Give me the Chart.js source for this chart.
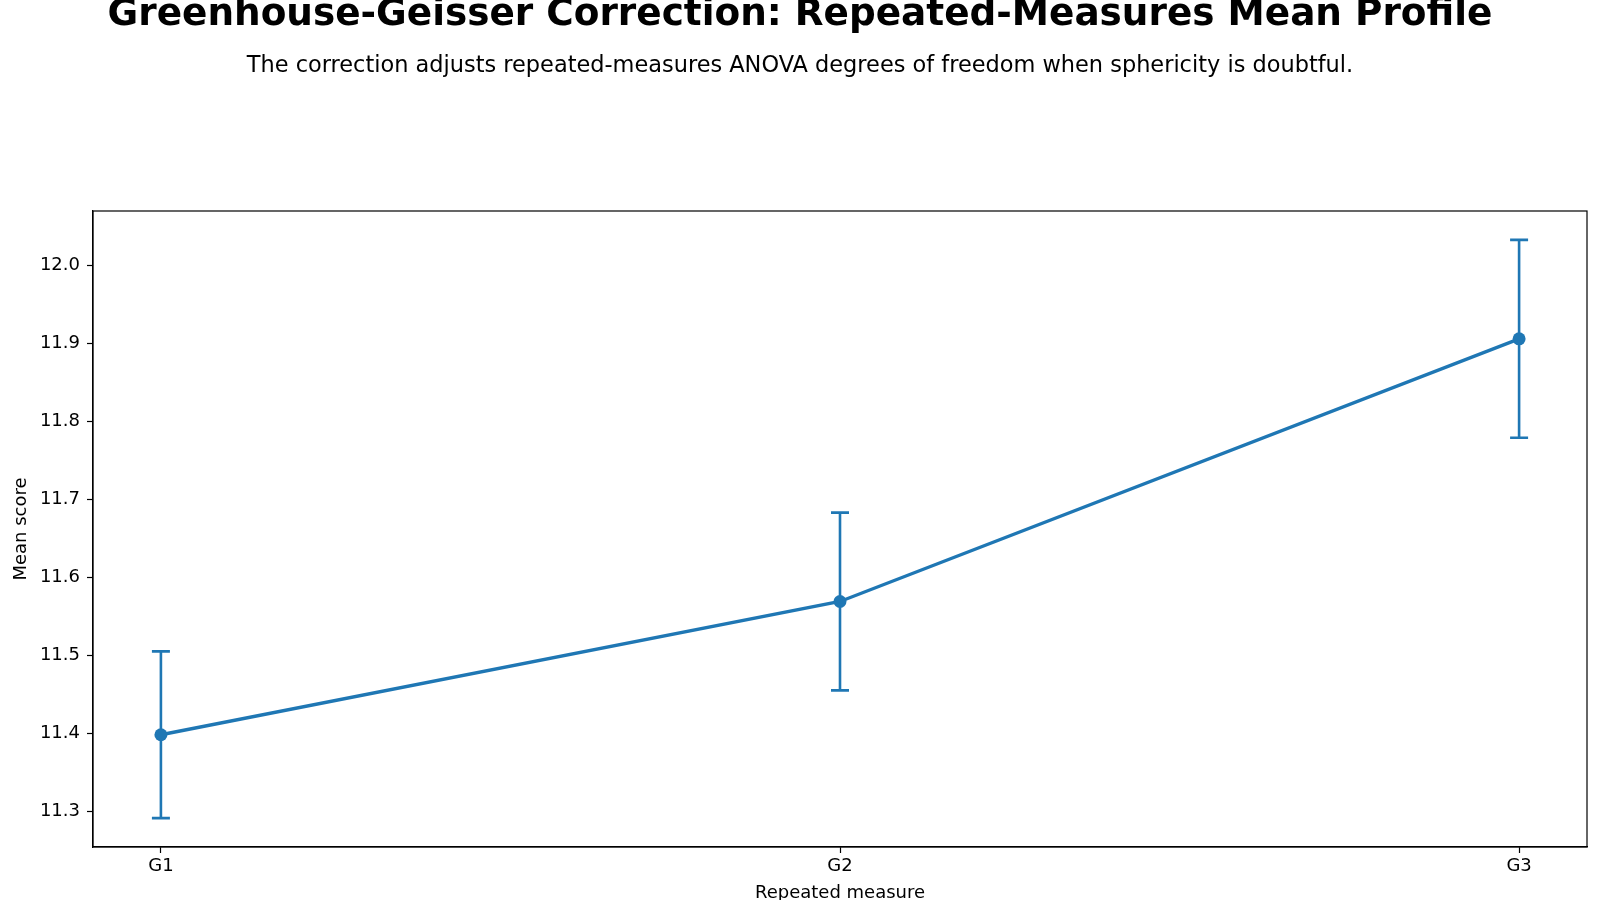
<!DOCTYPE html>
<html>
<head>
<meta charset="utf-8">
<script src="https://cdn.jsdelivr.net/npm/chart.js@4.4.1/dist/chart.umd.min.js"></script>
<style>
  html, body { margin: 0; padding: 0; background: #ffffff; }
  #wrap { width: 1600px; height: 900px; position: relative; }
</style>
</head>
<body>
<div id="wrap"><canvas id="c" width="1600" height="900"></canvas></div>
<script>
// ---- Data ----
const categories = ['G1', 'G2', 'G3'];
const means = [11.398, 11.569, 11.906];
const errors = [0.107, 0.114, 0.127];
const yTicks = [11.3, 11.4, 11.5, 11.6, 11.7, 11.8, 11.9, 12.0];

const titleText = 'Greenhouse-Geisser Correction: Repeated-Measures Mean Profile';
const subtitleText = 'The correction adjusts repeated-measures ANOVA degrees of freedom when sphericity is doubtful.';
const xLabel = 'Repeated measure';
const yLabel = 'Mean score';

const BLUE = '#1f77b4';
const FONT = "'DejaVu Sans', sans-serif";

const points = categories.map((c, i) => ({ x: i, y: means[i] }));

const errorBarPlugin = {
  id: 'errorBars',
  beforeDatasetsDraw(chart) {
    const ctx = chart.ctx;
    const xs = chart.scales.x, ys = chart.scales.y;
    ctx.save();
    ctx.strokeStyle = BLUE;
    ctx.lineWidth = 2.6;
    ctx.lineCap = 'butt';
    categories.forEach((c, i) => {
      const px = xs.getPixelForValue(i);
      const top = ys.getPixelForValue(means[i] + errors[i]);
      const bot = ys.getPixelForValue(means[i] - errors[i]);
      ctx.beginPath();
      ctx.moveTo(px, top); ctx.lineTo(px, bot);
      ctx.moveTo(px - 9, top); ctx.lineTo(px + 9, top);
      ctx.moveTo(px - 9, bot); ctx.lineTo(px + 9, bot);
      ctx.stroke();
    });
    ctx.restore();
  }
};

const framePlugin = {
  id: 'frame',
  afterDraw(chart) {
    const { ctx, chartArea: a } = chart;
    ctx.save();
    ctx.strokeStyle = '#000';
    ctx.lineWidth = 1.2;
    ctx.strokeRect(a.left, a.top, a.right - a.left, a.bottom - a.top);
    ctx.restore();
  }
};

new Chart(document.getElementById('c'), {
  type: 'line',
  data: {
    datasets: [{
      data: points,
      borderColor: BLUE,
      backgroundColor: BLUE,
      borderWidth: 3.4,
      pointRadius: 6.5,
      pointBorderWidth: 0,
      pointBackgroundColor: BLUE,
      tension: 0,
      clip: false
    }]
  },
  plugins: [errorBarPlugin, framePlugin],
  options: {
    responsive: false,
    animation: false,
    devicePixelRatio: 1,
    layout: { padding: { left: 13, right: 13, top: 0, bottom: 0 } },
    plugins: {
      legend: { display: false },
      tooltip: { enabled: false },
      title: {
        display: true,
        text: titleText,
        color: '#000',
        font: { family: FONT, size: 37.4, weight: 'bold', lineHeight: 1 },
        padding: { top: -3, bottom: 0 }
      },
      subtitle: {
        display: true,
        text: subtitleText,
        color: '#000',
        font: { family: FONT, size: 22.45, weight: 'normal', lineHeight: 1 },
        padding: { top: 20.1, bottom: 134.05 }
      }
    },
    scales: {
      x: {
        type: 'linear',
        min: -0.1,
        max: 2.1,
        afterBuildTicks(scale) { scale.ticks = categories.map((c, i) => ({ value: i })); },
        afterFit(scale) { scale.height = 53; },
        ticks: {
          color: '#000',
          font: { family: FONT, size: 18 },
          padding: 3,
          maxRotation: 0,
          autoSkip: false,
          callback: (v) => categories[v]
        },
        grid: { drawOnChartArea: false, drawTicks: true, tickLength: 6, tickColor: '#000', tickWidth: 1.2 },
        border: { display: true, color: '#000', width: 1.2 },
        title: {
          display: true,
          text: xLabel,
          color: '#000',
          font: { family: FONT, size: 18, lineHeight: 1 },
          padding: { top: 0, bottom: -2.4 }
        }
      },
      y: {
        type: 'linear',
        min: 11.254,
        max: 12.070,
        afterBuildTicks(scale) { scale.ticks = yTicks.map(v => ({ value: v })); },
        afterFit(scale) { scale.width = 80; },
        ticks: {
          color: '#000',
          font: { family: FONT, size: 18 },
          padding: 7,
          autoSkip: false,
          callback: (v) => Number(v).toFixed(1)
        },
        grid: { drawOnChartArea: false, drawTicks: true, tickLength: 6, tickColor: '#000', tickWidth: 1.2 },
        border: { display: true, color: '#000', width: 1.2 },
        title: {
          display: true,
          text: yLabel,
          color: '#000',
          font: { family: FONT, size: 18, lineHeight: 1 },
          padding: { top: -1, bottom: 0 }
        }
      }
    }
  }
});
</script>
</body>
</html>
